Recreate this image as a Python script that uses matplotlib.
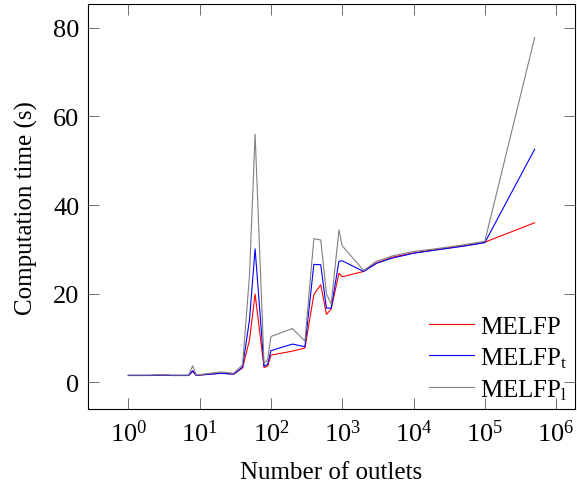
import matplotlib
matplotlib.use('Agg')
import matplotlib.pyplot as plt
import numpy as np

plt.rcParams['font.family'] = ['Liberation Serif', 'DejaVu Serif']
plt.rcParams['mathtext.fontset'] = 'custom'
plt.rcParams['mathtext.rm'] = 'Liberation Serif'
plt.rcParams['mathtext.it'] = 'Liberation Serif:italic'
plt.rcParams['font.size'] = 18

# number of outlets
outlets = [1, 2, 3, 4, 5, 6, 7, 8, 9, 10, 20, 30, 40, 50, 60, 80, 90, 100,
           200, 300, 400, 500, 600, 700, 900, 1000, 2000, 3000, 4000, 5000,
           10000, 20000, 50000, 100000, 500000]

# computation time (s)
melfp = [1.5, 1.5, 1.6, 1.5, 1.5, 1.5, 1.5, 2.4, 1.5, 1.6, 2.0, 1.8, 3.2, 9.5, 19.9,
         3.3, 3.6, 6.1, 7.0, 7.7, 19.8, 22.0, 15.3, 16.5, 24.6, 23.8, 25.0, 26.9,
         27.6, 28.2, 29.2, 29.9, 30.8, 31.6, 36.0]
melfp_t = [1.5, 1.5, 1.6, 1.5, 1.5, 1.5, 1.5, 2.6, 1.5, 1.6, 2.0, 1.8, 3.4, 14.0, 30.1,
           3.6, 4.0, 7.1, 8.6, 8.0, 26.6, 26.5, 16.7, 16.7, 27.3, 27.4, 25.0, 26.8,
           27.5, 28.0, 29.1, 29.8, 30.7, 31.5, 52.6]
melfp_l = [1.6, 1.6, 1.7, 1.6, 1.6, 1.6, 1.6, 3.7, 1.6, 1.7, 2.3, 2.0, 3.9, 24.0, 56.0,
           4.3, 5.0, 10.3, 12.1, 9.3, 32.4, 32.1, 20.0, 17.6, 34.4, 30.8, 25.2, 27.3,
           27.9, 28.5, 29.5, 30.1, 31.0, 31.8, 77.8]

fig = plt.figure(figsize=(5.77, 4.89), dpi=100)
ax = fig.add_subplot(111)
fig.subplots_adjust(left=0.152, right=0.997, top=0.99, bottom=0.161)

ax.plot(outlets, melfp, color='#ff0000', lw=0.8, label='MELFP')
ax.plot(outlets, melfp_t, color='#0000ff', lw=0.8, label=r'MELFP$_\mathrm{t}$')
ax.plot(outlets, melfp_l, color='#808080', lw=0.8, label=r'MELFP$_\mathrm{l}$')

ax.set_xscale('log')
ax.margins(x=0.1, y=0.1)
ax.set_yticks([0, 20, 40, 60, 80])
ax.set_xticks([1, 10, 100, 1e3, 1e4, 1e5, 1e6])

ax.tick_params(which='both', direction='in', top=True, right=True, color='#555555',
               labelsize=19)
ax.tick_params(which='major', length=8, width=0.6, pad=7)
ax.tick_params(which='minor', length=5.5, width=0.5)
ax.tick_params(axis='y', pad=6)
for s in ax.spines.values():
    s.set_linewidth(0.8)

ax.set_xlabel('Number of outlets', labelpad=11)
ax.set_ylabel('Computation time (s)', labelpad=11)

ax.legend(loc='lower right', frameon=False, handlelength=1.8, handletextpad=0.25,
          labelspacing=0.3, borderaxespad=0.1, borderpad=0.2)

fig.savefig('out.png', dpi=100)
